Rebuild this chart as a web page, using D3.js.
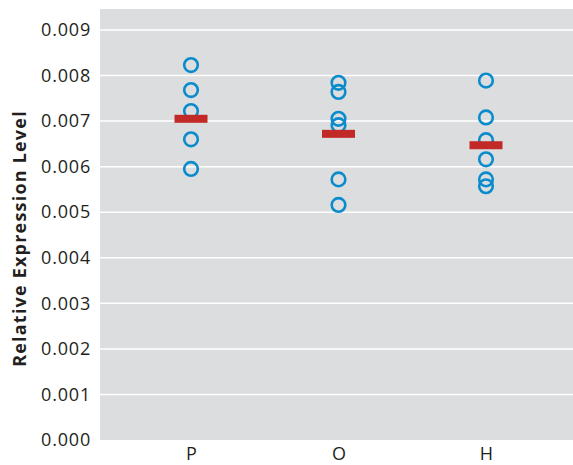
<!DOCTYPE html>
<html>
<head>
<meta charset="utf-8">
<script src="https://cdn.jsdelivr.net/npm/d3@7"></script>
<style>
  body { margin: 0; background: #fff; }
  text { font-family: "Open Sans", sans-serif; fill: #231f20; }
</style>
</head>
<body>
<div id="chart"></div>
<script>
// chart values
var groups = ["P", "O", "H"]
var valuesP = [0.00823, 0.00768, 0.00722, 0.00660, 0.00595]
var valuesO = [0.00784, 0.00764, 0.00705, 0.00691, 0.00572, 0.00516]
var valuesH = [0.00789, 0.00708, 0.00658, 0.00616, 0.00572, 0.00557]
var means = [0.00705, 0.00672, 0.00647]
var yTicks = [0, 0.001, 0.002, 0.003, 0.004, 0.005, 0.006, 0.007, 0.008, 0.009]

var width = 573
var height = 465
var margin = {top: 9, right: 0, bottom: 25, left: 100}

var svg = d3.select("#chart")
    .append("svg")
    .attr("width", width)
    .attr("height", height)

var x = d3.scalePoint()
    .domain(groups)
    .range([margin.left, width + 4])
    .padding(0.617)

var y = d3.scaleLinear()
    .domain([0, 0.00946])
    .range([height - margin.bottom, margin.top])

// grey plot panel
svg.append("rect")
    .attr("x", margin.left)
    .attr("y", margin.top)
    .attr("width", width - margin.left - margin.right)
    .attr("height", y(0) - margin.top)
    .attr("fill", "#dcdddf")

// white grid lines
svg.selectAll(".grid")
    .data(yTicks.slice(1))
    .enter()
    .append("line")
    .attr("class", "grid")
    .attr("x1", margin.left)
    .attr("x2", width - margin.right)
    .attr("y1", function(d) { return y(d) })
    .attr("y2", function(d) { return y(d) })
    .attr("stroke", "#fff")
    .attr("stroke-width", 1.5)

// y axis labels
var yAxis = d3.axisLeft(y)
    .tickValues(yTicks)
    .tickFormat(d3.format(".3f"))
    .tickSize(0)
    .tickPadding(9)

var gy = svg.append("g")
    .attr("transform", "translate(" + margin.left + ",0)")
    .call(yAxis)
gy.select(".domain").remove()
gy.selectAll("text")
    .attr("font-size", 18)
    .attr("letter-spacing", 0.8)
    .attr("font-family", "Open Sans, sans-serif")
    .attr("fill", "#231f20")

// x axis labels, close to the bottom edge as in the original
var xAxis = d3.axisBottom(x).tickSize(0).tickPadding(0)
var gx = svg.append("g")
    .attr("transform", "translate(0," + y(0) + ")")
    .call(xAxis)
gx.select(".domain").remove()
gx.selectAll("text")
    .attr("y", 0)
    .attr("dy", 20)
    .attr("font-size", 18)
    .attr("font-family", "Open Sans, sans-serif")
    .attr("fill", "#231f20")

// axis title
svg.append("text")
    .attr("transform", "translate(26," + ((110 + 367) / 2) + ") rotate(-90)")
    .attr("text-anchor", "middle")
    .attr("font-size", 18)
    .attr("letter-spacing", 1.2)
    .attr("font-weight", "bold")
    .text("Relative Expression Level")

// data points
var points = []
valuesP.forEach(function(v) { points.push({g: "P", v: v}) })
valuesO.forEach(function(v) { points.push({g: "O", v: v}) })
valuesH.forEach(function(v) { points.push({g: "H", v: v}) })

svg.selectAll(".dot")
    .data(points)
    .enter()
    .append("circle")
    .attr("class", "dot")
    .attr("cx", function(d) { return x(d.g) })
    .attr("cy", function(d) { return y(d.v) })
    .attr("r", 6.8)
    .attr("fill", "none")
    .attr("stroke", "#0a8bcc")
    .attr("stroke-width", 2.6)

// mean bars
svg.selectAll(".mean")
    .data(means)
    .enter()
    .append("rect")
    .attr("class", "mean")
    .attr("x", function(d, i) { return x(groups[i]) - 16.5 })
    .attr("y", function(d) { return y(d) - 4 })
    .attr("width", 33)
    .attr("height", 8)
    .attr("fill", "#c22a27")
</script>
</body>
</html>
